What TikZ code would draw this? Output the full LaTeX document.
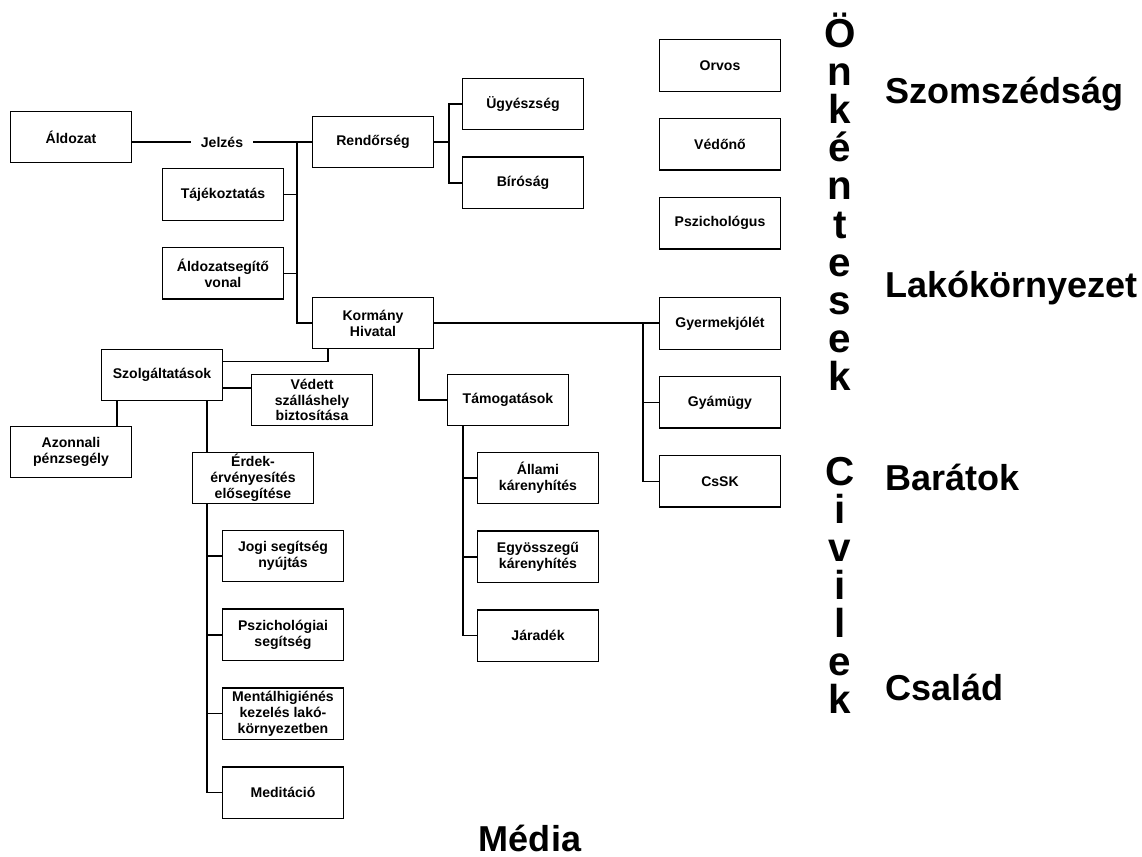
\documentclass[tikz,border=0pt]{standalone}
\usepackage{fontspec}
\setmainfont{Liberation Sans}
\usetikzlibrary{positioning}

\begin{document}
\begin{tikzpicture}[x=0.02cm, y=-0.02cm,
  Bx/.style={draw, line width=0.8pt, minimum width=2.42cm, minimum height=1.03cm,
    inner sep=0cm, align=center, font=\bfseries\fontsize{8}{9}\selectfont},
  Ln/.style={line width=0.8pt},
  Big/.style={font=\bfseries\fontsize{20.5}{24}\selectfont, inner sep=0cm},
  Vt/.style={font=\bfseries\fontsize{23}{26}\selectfont, inner sep=0cm, anchor=base}]
\useasboundingbox (0,0) rectangle (1142,856);

\node[Bx] at (71,137) (aldozat) {Áldozat};
\node[Bx] at (373,142) (rendor) {Rendőrség};
\node[Bx] at (523,104) (ugyesz) {Ügyészség};
\node[Bx, below=5.2mm of ugyesz] (birosag) {Bíróság};
\node[Bx] at (223,194.5) (tajek) {Tájékoztatás};
\node[Bx, below=5.2mm of tajek] (asv) {Áldozatsegítő\\vonal};
\node[Bx] at (373,323) (kormany) {Kormány\\Hivatal};
\node[Bx] at (162,375) (szolg) {Szolgáltatások};
\node[Bx] at (312,400) (vedett) {Védett\\szálláshely\\biztosítása};
\node[Bx] at (71,452) (azonnali) {Azonnali\\pénzsegély};
\node[Bx] at (253,478) (erdek) {Érdek-\\érvényesítés\\elősegítése};
\node[Bx] at (283,556) (jogi) {Jogi segítség\\nyújtás};
\node[Bx, below=5.2mm of jogi] (pszisegit) {Pszichológiai\\segítség};
\node[Bx, below=5.2mm of pszisegit] (mental) {Mentálhigiénés\\kezelés lakó-\\környezetben};
\node[Bx, below=5.2mm of mental] (medit) {Meditáció};
\node[Bx] at (508,400) (tamog) {Támogatások};
\node[Bx] at (538,478) (allami) {Állami\\kárenyhítés};
\node[Bx, below=5.2mm of allami] (egyossz) {Egyösszegű\\kárenyhítés};
\node[Bx, below=5.2mm of egyossz] (jaradek) {Járadék};
\node[Bx] at (720,65.5) (orvos) {Orvos};
\node[Bx, below=5.2mm of orvos] (vedono) {Védőnő};
\node[Bx, below=5.2mm of vedono] (pszich) {Pszichológus};
\node[Bx] at (720,323.5) (gyermek) {Gyermekjólét};
\node[Bx, below=5.2mm of gyermek] (gyamugy) {Gyámügy};
\node[Bx, below=5.2mm of gyamugy] (cssk) {CsSK};

% signal and the trunk on the left
\draw[Ln] (aldozat.east |- rendor.west) -- node[fill=white, inner xsep=0.2cm,
  font=\bfseries\fontsize{8}{9}\selectfont] (jelzes) {Jelzés} (rendor.west);
\coordinate (tr) at ([xshift=-0.3cm]rendor.west);
\draw[Ln] (tr) |- (kormany.west);
\draw[Ln] (tajek.east) -- (tajek.east -| tr);
\draw[Ln] (asv.east) -- (asv.east -| tr);

\coordinate (rb) at ([xshift=0.3cm]rendor.east);
\draw[Ln] (rendor.east) -- (rb);
\draw[Ln] (ugyesz.west) -| (rb) |- (birosag.west);

% right branch
\coordinate (kb) at ([xshift=-0.32cm]gyermek.west);
\draw[Ln] (kormany.east) -- (kormany.east -| gyermek.west);
\draw[Ln] (kb |- kormany.east) |- (cssk.west);
\draw[Ln] (gyamugy.west) -- (gyamugy.west -| kb);

% services
\coordinate (ksz) at ([xshift=0.32cm]kormany.south west);
\draw[Ln] (ksz) |- ([yshift=-0.26cm]szolg.north east);
\draw[Ln] ([yshift=-0.26cm]szolg.east) -- ([yshift=-0.26cm]szolg.east -| vedett.west);
\coordinate (sa) at ([xshift=0.32cm]szolg.south west);
\draw[Ln] (sa) -- (sa |- azonnali.north);
\coordinate (se) at ([xshift=-0.32cm]szolg.south east);
\draw[Ln] (se) -- (se |- erdek.north);
\draw[Ln] (se |- erdek.south) |- (medit.west);
\foreach \n in {jogi, pszisegit, mental}
  \draw[Ln] (\n.west) -- (\n.west -| se);

% support
\draw[Ln] ([xshift=-0.3cm]kormany.south east) |- (tamog.west);
\coordinate (ta) at ([xshift=0.32cm]tamog.south west);
\draw[Ln] (ta) |- (jaradek.west);
\foreach \n in {allami, egyossz}
  \draw[Ln] (\n.west) -- (\n.west -| ta);

% vertical words
\foreach \c [count=\i] in {Ö,n,k,é,n,t,e,s,e,k}
  \node[Vt] (onk\i) at (840,{47+38.2*(\i-1)}) {\c};
\foreach \c [count=\i] in {C,i,v,i,l,e,k}
  \node[Vt] (civ\i) at (840,{485+38*(\i-1)}) {\c};

\node[Big, anchor=base west] (szomsz) at (885,103) {Szomszédság};
\node[Big, anchor=base west] (lako) at (885,297) {Lakókörnyezet};
\node[Big, anchor=base west] (barat) at (885,490) {Barátok};
\node[Big, anchor=base west] (csalad) at (885,700) {Család};
\node[Big, anchor=base] (media) at (530,851) {Média};

\end{tikzpicture}
\end{document}
